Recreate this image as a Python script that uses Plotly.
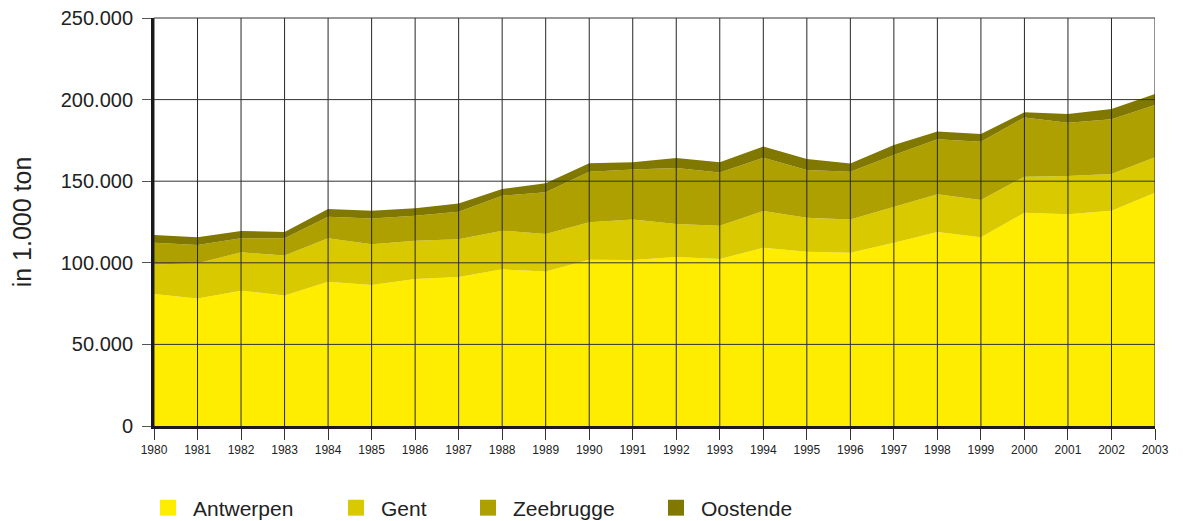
import plotly.graph_objects as go

years = list(range(1980, 2004))
antwerpen = [80900, 78200, 82900, 80000, 88400, 86400, 90100, 91300, 96000, 94600,
             101900, 101700, 103500, 102300, 109200, 106800, 106200, 112300, 118900, 115600,
             130700, 129700, 131900, 142900]
gent = [18100, 21500, 23500, 24400, 26600, 24900, 23400, 23100, 23700, 23000,
        22900, 24900, 20300, 20400, 22500, 20800, 20400, 22100, 23100, 22900,
        22100, 23500, 22500, 21700]
zeebrugge = [13300, 11200, 8600, 10600, 13200, 15900, 15400, 16900, 21400, 25600,
             31000, 30600, 34300, 32700, 32700, 29300, 29200, 31600, 33700, 35700,
             36300, 32600, 33600, 32100]
oostende = [4700, 4700, 4500, 3900, 4800, 4700, 4500, 5100, 4100, 5500,
            5200, 4400, 6100, 6200, 6800, 6700, 5100, 6200, 4700, 4700,
            3100, 5400, 6200, 6700]
series_names = ["Antwerpen", "Gent", "Zeebrugge", "Oostende"]
y_ticks = [0, 50000, 100000, 150000, 200000, 250000]
y_title = "in 1.000 ton"

colors = ["#FFED00", "#D9C900", "#ADA000", "#807800"]
series_values = [antwerpen, gent, zeebrugge, oostende]

FONT = "Liberation Sans, Arial, sans-serif"
# page body has an 8px margin, so the figure is sized/offset to compensate
WIDTH, HEIGHT = 1175, 513
L, R, T = 146, 28, 10
B = HEIGHT - T - 408
fig = go.Figure()

for name, vals, col in zip(series_names, series_values, colors):
    fig.add_trace(go.Scatter(
        x=years, y=vals, name=name, stackgroup="one",
        mode="lines", line=dict(width=0, color=col),
        fillcolor=col, showlegend=False, hoverinfo="x+y+name"))

# legend entries (one legend per entry so they can be placed individually)
legend_px = [135, 323, 455, 643]
for i, (name, col) in enumerate(zip(series_names, colors)):
    lg = "legend" if i == 0 else f"legend{i+1}"
    fig.add_trace(go.Scatter(
        x=[None], y=[None], name=name, mode="markers",
        marker=dict(symbol="square", size=20, color=col),
        showlegend=True, legend=lg))

legend_common = dict(orientation="h", yanchor="middle", xanchor="left",
                     xref="container", yref="container",
                     font=dict(family=FONT, size=21, color="#222222"),
                     bgcolor="rgba(0,0,0,0)", itemwidth=40)
layout_legends = {}
for i in range(4):
    lg = "legend" if i == 0 else f"legend{i+1}"
    layout_legends[lg] = dict(legend_common, x=legend_px[i] / WIDTH, y=1 - 500 / HEIGHT)

# grid lines drawn above the areas
shapes = []
for yr in years:
    shapes.append(dict(type="line", xref="x", yref="y", x0=yr, x1=yr, y0=0, y1=y_ticks[-1],
                       line=dict(color="#262626", width=1), layer="above"))
for yv in y_ticks[1:-1]:
    shapes.append(dict(type="line", xref="x", yref="y", x0=years[0], x1=years[-1], y0=yv, y1=yv,
                       line=dict(color="#333333", width=1), layer="above"))
# top grid line at the edge of the plot area (paper refs so it is not clipped)
shapes.append(dict(type="line", xref="paper", yref="paper", x0=0, x1=1, y0=1, y1=1,
                   line=dict(color="#333333", width=1), layer="above"))

fig.update_layout(
    width=WIDTH, height=HEIGHT,
    margin=dict(l=L, r=R, t=T, b=B, autoexpand=False),
    paper_bgcolor="white", plot_bgcolor="white",
    separators=",.",
    font=dict(family=FONT, color="#222222"),
    shapes=shapes,
    xaxis=dict(range=[years[0], years[-1]], tickvals=years, ticktext=[str(y) for y in years],
               showgrid=False, zeroline=False, showline=True, linecolor="#1a1a1a", linewidth=3,
               ticks="outside", ticklen=11, tickcolor="#333333", tickwidth=1, automargin=False,
               ticklabeloverflow="allow",
               tickfont=dict(size=12, family=FONT, color="#222222"), layer="above traces"),
    yaxis=dict(range=[0, y_ticks[-1]], tickvals=y_ticks, tickformat=",d",
               showgrid=False, zeroline=False, showline=True, linecolor="#1a1a1a", linewidth=3,
               ticks="outside", ticklen=9, tickcolor="#555555", tickwidth=1, automargin=False,
               ticklabelstandoff=5, ticklabeloverflow="allow",
               tickfont=dict(size=20, family=FONT, color="#222222"), layer="above traces",
               title=dict(text=y_title, font=dict(size=25, family=FONT, color="#222222"), standoff=24)),
    **layout_legends,
)

fig.write_html("out.html")
